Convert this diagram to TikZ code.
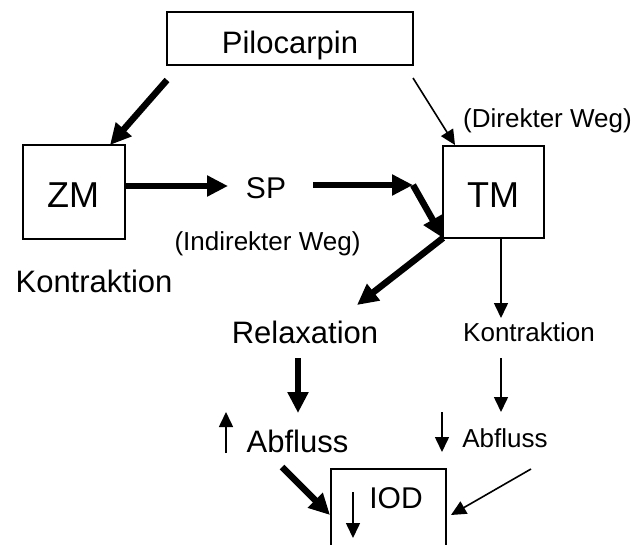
\documentclass[tikz,border=0pt]{standalone}
\usepackage{fontspec}
\setmainfont{Liberation Sans}
\usetikzlibrary{arrows.meta}
\begin{document}
\begin{tikzpicture}[x=1pt,y=-1pt,
  box/.style={draw, line width=1.5pt, inner sep=0pt},
  bigtxt/.style={font=\fontsize{31}{36}\selectfont, anchor=base, inner sep=0pt},
  hugetxt/.style={font=\fontsize{36}{40}\selectfont, anchor=base, inner sep=0pt},
  smalltxt/.style={font=\fontsize{26}{30}\selectfont, anchor=base, inner sep=0pt},
  fatarrow/.style={line width=6.5pt, -{Triangle[length=21pt,width=20pt]}},
  slimarrow/.style={line width=1.6pt, -{Triangle[length=15pt,width=14pt]}}]
\useasboundingbox (0,0) rectangle (635,544);
\clip (0,0) rectangle (635,544);
% boxes
\node[box, minimum width=246pt, minimum height=53pt] (pilobox) at (290,38.5) {};
\node[box, minimum width=102pt, minimum height=94pt] (zmbox) at (74,192) {};
\node[box, minimum width=101pt, minimum height=92pt] (tmbox) at (493.5,192) {};
\node[box, minimum width=115pt, minimum height=90pt] (iodbox) at (388.5,514) {};
% texts
\node[bigtxt] (pilo) at (290,53) {Pilocarpin};
\node[hugetxt] (zm) at (73,207) {ZM};
\node[hugetxt] (tm) at (493,207) {TM};
\node[bigtxt, font=\fontsize{30}{34}\selectfont] (sp) at (266,198) {SP};
\node[smalltxt] (direkt) at (547.5,127) {(Direkter Weg)};
\node[smalltxt] (indirekt) at (267.5,250) {(Indirekter Weg)};
\node[bigtxt] (kontrl) at (94,292) {Kontraktion};
\node[bigtxt] (relax) at (305,343) {Relaxation};
\node[smalltxt] (kontrr) at (529,341) {Kontraktion};
\node[bigtxt] (abfl) at (297.5,452) {Abfluss};
\node[smalltxt] (abfr) at (505,447) {Abfluss};
\node[bigtxt, font=\fontsize{30}{34}\selectfont] (iod) at (396,508) {IOD};
% connector end points
\coordinate (a1s) at (167,80);   \coordinate (a1e) at (110,145);
\coordinate (a2s) at (413,78);   \coordinate (a2e) at (455,145);
\coordinate (a3s) at (125,186);  \coordinate (a3e) at (228,186);
\coordinate (a4s) at (313,185);  \coordinate (bend) at (413,185);
\coordinate (tmcorner) at (443,238);
\coordinate (a6e) at (357,305);
\coordinate (a7s) at (501,238);  \coordinate (a7e) at (501,318);
\coordinate (a8s) at (298,358);  \coordinate (a8e) at (298,413);
\coordinate (a9s) at (501,358);  \coordinate (a9e) at (501,412);
\coordinate (u1s) at (226,453);  \coordinate (u1e) at (226,412);
\coordinate (d1s) at (442,412);  \coordinate (d1e) at (442,452);
\coordinate (a10s) at (282,467); \coordinate (a10e) at (330,515);
\coordinate (a11s) at (531,469); \coordinate (a11e) at (451,515);
\coordinate (d2s) at (353,492);  \coordinate (d2e) at (353,538);
% connectors
\draw[fatarrow] (a1s) -- (a1e);
\draw[slimarrow] (a2s) -- (a2e);
\draw[fatarrow] (a3s) -- (a3e);
\draw[fatarrow] (a4s) -- (bend);
\draw[fatarrow] (bend) -- (tmcorner);
\draw[fatarrow] (tmcorner) -- (a6e);
\draw[slimarrow] (a7s) -- (a7e);
\draw[fatarrow] (a8s) -- (a8e);
\draw[slimarrow] (a9s) -- (a9e);
\draw[slimarrow] (u1s) -- (u1e);
\draw[slimarrow] (d1s) -- (d1e);
\draw[fatarrow] (a10s) -- (a10e);
\draw[slimarrow] (a11s) -- (a11e);
\draw[slimarrow] (d2s) -- (d2e);
\end{tikzpicture}
\end{document}
